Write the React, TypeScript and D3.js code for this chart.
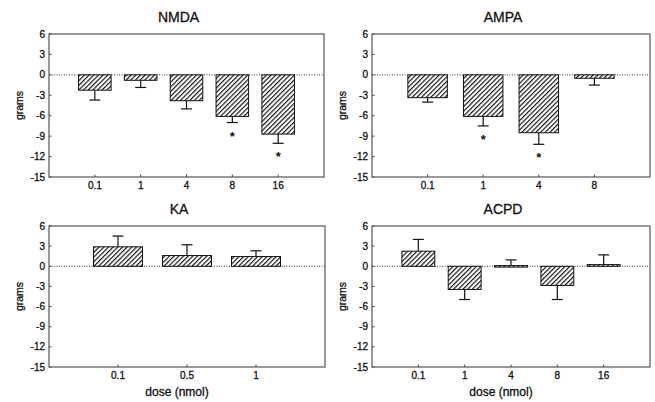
import React from "react";
import * as d3 from "d3";

const yTicks = [6, 3, 0, -3, -6, -9, -12, -15];

const nmdaDoses = ["0.1", "1", "4", "8", "16"];
const nmdaMean = [-2.25, -0.8, -3.8, -6.1, -8.7];
const nmdaSem = [1.45, 1.05, 1.2, 0.9, 1.35];
const nmdaStar = [false, false, false, true, true];

const ampaDoses = ["0.1", "1", "4", "8"];
const ampaMean = [-3.35, -6.1, -8.5, -0.5];
const ampaSem = [0.65, 1.4, 1.7, 1.0];
const ampaStar = [false, true, true, false];

const kaDoses = ["0.1", "0.5", "1"];
const kaMean = [2.9, 1.6, 1.45];
const kaSem = [1.6, 1.6, 0.85];
const kaStar = [false, false, false];

const acpdDoses = ["0.1", "1", "4", "8", "16"];
const acpdMean = [2.25, -3.45, 0.1, -2.85, 0.25];
const acpdSem = [1.75, 1.5, 0.85, 2.1, 1.45];
const acpdStar = [false, false, false, false, false];

const FONT = "'Liberation Sans', Arial, Helvetica, sans-serif";
const INK = "#111";
const heavy = { stroke: INK, strokeWidth: 0.3 };

type PanelProps = {
  title: string;
  doses: string[];
  mean: number[];
  sem: number[];
  star: boolean[];
  left: number;
  right: number;
  top: number;
  bottom: number;
  xLabel?: boolean;
};

function Panel({ title, doses, mean, sem, star, left, right, top, bottom, xLabel }: PanelProps) {
  const y = d3.scaleLinear().domain([-15, 6]).range([bottom, top]);
  const x = d3.scalePoint<string>().domain(doses).range([left, right]).padding(1);
  const step = x.step();
  const bw = step * 0.71;
  const capW = 11;
  const y0 = y(0);
  const cx = (left + right) / 2 - 8;
  return (
    <g>
      <text x={cx} y={top - 12.5} textAnchor="middle" fontFamily={FONT} fontSize={14} fill={INK} {...heavy}>
        {title}
      </text>
      <text
        transform={`translate(${left - 26},${(top + bottom) / 2}) rotate(-90)`}
        textAnchor="middle"
        fontFamily={FONT}
        fontSize={10.5}
        fill={INK}
        {...heavy}
      >
        grams
      </text>
      {yTicks.map((t) => (
        <g key={t}>
          <line x1={left} x2={left + 2.5} y1={y(t)} y2={y(t)} stroke="#444" strokeWidth={1} />
          <text x={left - 4} y={y(t) + 3.5} textAnchor="end" fontFamily={FONT} fontSize={10} fill={INK} {...heavy}>
            {t}
          </text>
        </g>
      ))}
      <line x1={left} x2={right} y1={y0} y2={y0} stroke="#333" strokeWidth={1} strokeDasharray="1,1.5" />
      {doses.map((d, i) => {
        const xc = x(d) as number;
        const m = mean[i];
        const e = m >= 0 ? m + sem[i] : m - sem[i];
        const yb = y(m);
        const ye = y(e);
        return (
          <g key={d}>
            <line x1={xc} x2={xc} y1={yb} y2={ye} stroke={INK} strokeWidth={1.2} />
            <line x1={xc - capW / 2} x2={xc + capW / 2} y1={ye} y2={ye} stroke={INK} strokeWidth={1.2} />
            <rect
              x={xc - bw / 2}
              y={Math.min(yb, y0)}
              width={bw}
              height={Math.max(Math.abs(yb - y0), 1.5)}
              fill="url(#hatch)"
              stroke={INK}
              strokeWidth={1}
            />
            {star[i] && (
              <text x={xc} y={ye + 18} textAnchor="middle" fontFamily={FONT} fontSize={13} fontWeight="bold" fill={INK}>
                *
              </text>
            )}
            <line x1={xc} x2={xc} y1={bottom} y2={bottom - 2.5} stroke="#444" strokeWidth={1} />
            <text x={xc} y={bottom + 11.5} textAnchor="middle" fontFamily={FONT} fontSize={10} fill={INK} {...heavy}>
              {d}
            </text>
          </g>
        );
      })}
      <rect x={left} y={top} width={right - left} height={bottom - top} fill="none" stroke="#555" strokeWidth={1.2} />
      {xLabel && (
        <text x={cx - 2} y={bottom + 29} textAnchor="middle" fontFamily={FONT} fontSize={12} fill={INK} {...heavy}>
          dose (nmol)
        </text>
      )}
    </g>
  );
}

export default function App() {
  return (
    <svg
      width={655}
      height={402}
      style={{ position: "absolute", left: 0, top: 0, background: "#fff" }}
    >
      <defs>
        <pattern id="hatch" patternUnits="userSpaceOnUse" width={3.3} height={3.3} patternTransform="rotate(45)">
          <rect width={3.3} height={3.3} fill="#fff" />
          <line x1={0} y1={0} x2={0} y2={3.3} stroke="#111" strokeWidth={2.3} />
        </pattern>
      </defs>
      <rect width={655} height={402} fill="#fff" />
      <Panel title="NMDA" doses={nmdaDoses} mean={nmdaMean} sem={nmdaSem} star={nmdaStar} left={49} right={324} top={34} bottom={177} />
      <Panel title="AMPA" doses={ampaDoses} mean={ampaMean} sem={ampaSem} star={ampaStar} left={372} right={650} top={34} bottom={177} />
      <Panel title="KA" doses={kaDoses} mean={kaMean} sem={kaSem} star={kaStar} left={49} right={325} top={226} bottom={367} xLabel />
      <Panel title="ACPD" doses={acpdDoses} mean={acpdMean} sem={acpdSem} star={acpdStar} left={372} right={650} top={226} bottom={367} xLabel />
    </svg>
  );
}
